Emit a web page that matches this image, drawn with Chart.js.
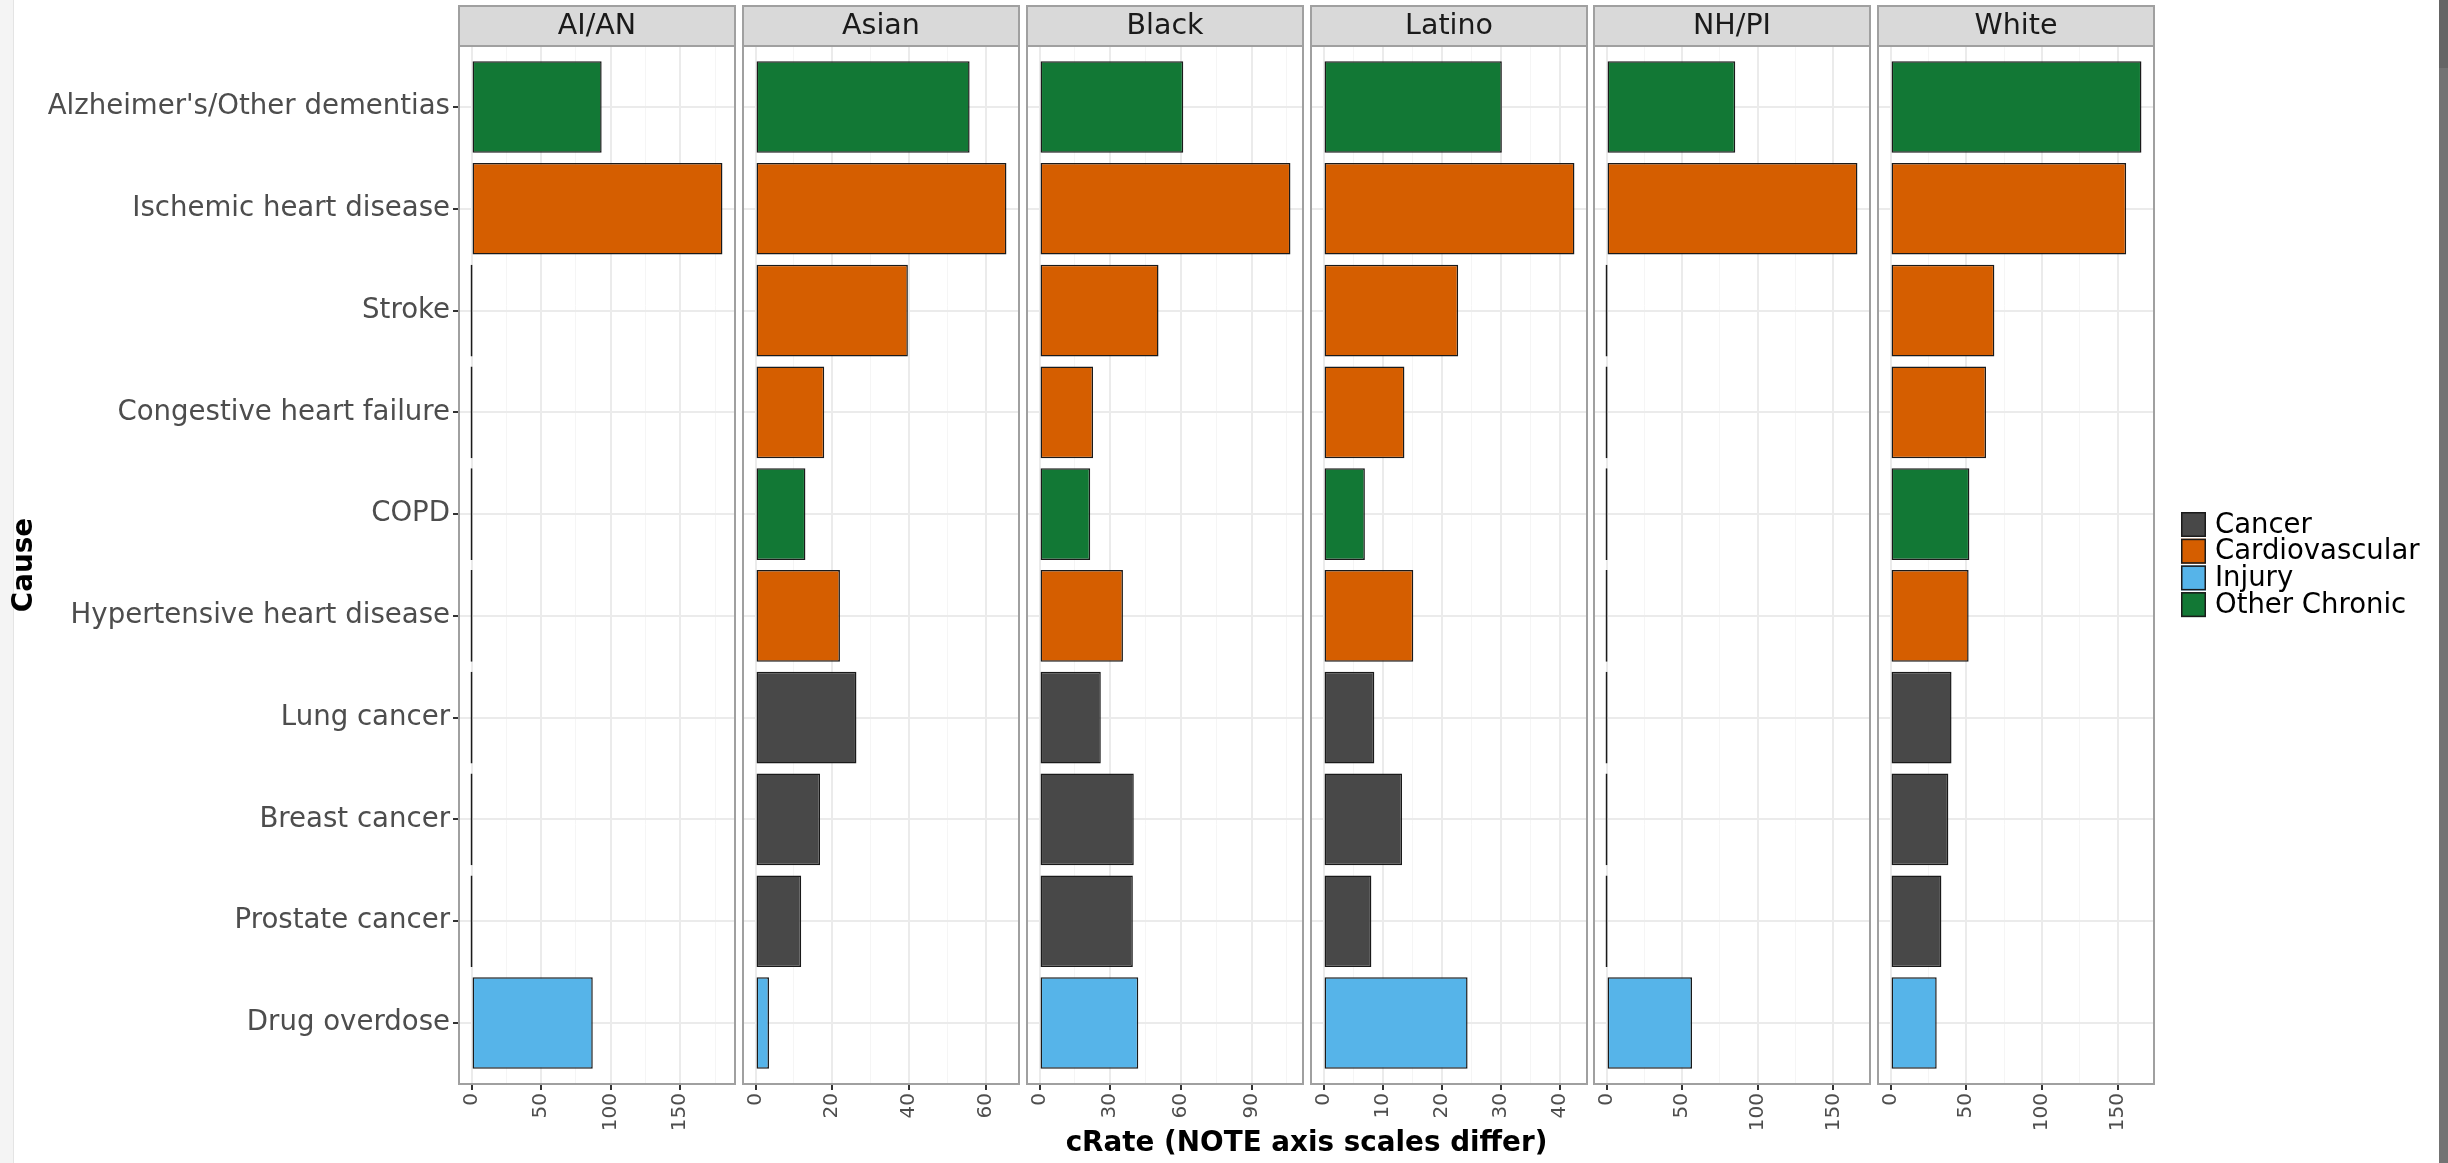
<!DOCTYPE html>
<html><head><meta charset="utf-8">
<script src="https://cdn.jsdelivr.net/npm/chart.js@4.4.1/dist/chart.umd.min.js"></script>
<style>
html,body{margin:0;padding:0;background:#fff;}
body{width:2448px;height:1163px;position:relative;overflow:hidden;}
#lstrip{position:absolute;left:0;top:0;width:13px;height:1163px;background:#f4f4f4;border-right:1px solid #e4e4e4;}
#rstrip{position:absolute;left:2439px;top:0;width:9px;height:1163px;background:#737373;}
#rstripTop{position:absolute;left:2439px;top:0;width:9px;height:68px;background:#656565;}
canvas{position:absolute;left:0;top:0;}
</style></head>
<body>
<div id="lstrip"></div><div id="rstrip"></div><div id="rstripTop"></div>
<script>
// ---- data ----
const causes = ["Alzheimer's/Other dementias","Ischemic heart disease","Stroke","Congestive heart failure","COPD","Hypertensive heart disease","Lung cancer","Breast cancer","Prostate cancer","Drug overdose"];
const causeGroups = ["Other Chronic","Cardiovascular","Cardiovascular","Cardiovascular","Other Chronic","Cardiovascular","Cancer","Cancer","Cancer","Injury"];
const groups = ["Cancer","Cardiovascular","Injury","Other Chronic"];
const groupColors = ["#484848","#d55e00","#56b4e9","#127835"];
const races = ["AI/AN","Asian","Black","Latino","NH/PI","White"];
const rateAIAN   = [93.5,180.3,0,0,0,0,0,0,0,87.1];
const rateAsian  = [55.8,65.4,39.7,17.9,13.0,22.0,26.3,16.8,11.9,3.5];
const rateBlack  = [61.0,106.5,50.5,22.7,21.5,35.4,26.0,40.0,39.6,41.9];
const rateLatino = [30.2,42.5,22.8,13.7,7.0,15.2,8.6,13.3,8.1,24.4];
const rateNHPI   = [85.1,165.9,0,0,0,0,0,0,0,56.5];
const rateWhite  = [165.8,155.7,68.6,63.1,52.1,51.6,40.3,38.2,33.6,30.5];
const ticksAIAN   = [0,50,100,150];
const ticksAsian  = [0,20,40,60];
const ticksBlack  = [0,30,60,90];
const ticksLatino = [0,10,20,30,40];
const ticksNHPI   = [0,50,100,150];
const ticksWhite  = [0,50,100,150];
const xTitle = "cRate (NOTE axis scales differ)";
const yTitle = "Cause";

const seriesList = [rateAIAN, rateAsian, rateBlack, rateLatino, rateNHPI, rateWhite];
const tickList = [ticksAIAN, ticksAsian, ticksBlack, ticksLatino, ticksNHPI, ticksWhite];

// ---- layout ----
const W = 2448, H = 1163;
const panelX = [459, 743, 1027, 1311, 1594, 1878];
const panelW = 276;
const stripTop = 6, panelTop = 46, panelBottom = 1084;
const FONT = '"DejaVu Sans", sans-serif';

const panelDeco = {
  id: 'panelDeco',
  afterDraw(chart) {
    const {ctx, chartArea: a} = chart;
    ctx.save();
    ctx.fillStyle = '#d9d9d9';
    ctx.fillRect(a.left, stripTop, a.right - a.left, a.top - stripTop);
    ctx.strokeStyle = '#a0a0a0'; ctx.lineWidth = 2;
    ctx.strokeRect(a.left, stripTop, a.right - a.left, a.top - stripTop);
    ctx.strokeRect(a.left, a.top, a.right - a.left, a.bottom - a.top);
    ctx.fillStyle = '#1a1a1a';
    ctx.font = '28.5px ' + FONT;
    ctx.textAlign = 'center'; ctx.textBaseline = 'middle';
    ctx.fillText(chart.data.datasets[0].label, (a.left + a.right) / 2, (stripTop + a.top) / 2 + 1);
    ctx.restore();
  }
};

const globalDeco = {
  id: 'globalDeco',
  afterDraw(chart) {
    const ctx = chart.ctx;
    ctx.save();
    ctx.fillStyle = '#000';
    ctx.font = 'bold 27.8px ' + FONT;
    ctx.textAlign = 'center'; ctx.textBaseline = 'middle';
    ctx.fillText(xTitle, (panelX[0] + panelX[5] + panelW) / 2, 1144);
    ctx.translate(25, (panelTop + panelBottom) / 2);
    ctx.rotate(-Math.PI / 2);
    ctx.fillText(yTitle, 0, 0);
    ctx.restore();
    // legend
    ctx.save();
    const kx = 2181, ky = 512, kw = 25, kh = 25, step = 26.7;
    ctx.font = '27.5px ' + FONT;
    ctx.textAlign = 'left'; ctx.textBaseline = 'middle';
    groups.forEach((g, j) => {
      const y = ky + j * step;
      ctx.fillStyle = groupColors[j];
      ctx.fillRect(kx, y, kw, kh);
      ctx.strokeStyle = '#1a1a1a'; ctx.lineWidth = 1.5;
      ctx.strokeRect(kx + 0.75, y + 0.75, kw - 1.5, kh - 1.5);
      ctx.fillStyle = '#000';
      ctx.fillText(g, 2215, y + kh / 2 + 1);
    });
    ctx.restore();
  }
};

races.forEach((race, i) => {
  const cv = document.createElement('canvas');
  cv.width = W; cv.height = H;
  document.body.appendChild(cv);
  const vals = seriesList[i];
  const majors = tickList[i];
  const vmax = Math.max(...vals);
  const xmin = -0.05 * vmax, xmax = 1.05 * vmax;
  const half = (majors[1] - majors[0]) / 2;
  const gridVals = [];
  for (let v = majors[0] - half; v <= xmax + 1e-9; v += half) if (v >= xmin) gridVals.push(v);
  const isMajor = v => majors.some(m => Math.abs(m - v) < 1e-9);
  const first = i === 0;
  const colors = causeGroups.map(g => groupColors[groups.indexOf(g)]);

  new Chart(cv.getContext('2d'), {
    type: 'bar',
    data: {
      datasets: [{
        label: race,
        data: vals.map((v, j) => ({x: v, y: j})),
        backgroundColor: colors,
        borderColor: '#1a1a1a',
        borderWidth: 1.5,
        borderSkipped: false,
        barPercentage: 0.9,
        categoryPercentage: 1,
        minBarLength: 2
      }]
    },
    options: {
      indexAxis: 'y',
      responsive: false,
      animation: false,
      devicePixelRatio: 1,
      layout: { padding: { left: first ? 0 : panelX[i], right: W - panelX[i] - panelW, top: panelTop, bottom: 0 } },
      plugins: { legend: { display: false }, tooltip: { enabled: false } },
      scales: {
        x: {
          type: 'linear', position: 'bottom', min: xmin, max: xmax, offset: false,
          afterBuildTicks: s => { s.ticks = gridVals.map(v => ({value: v})); },
          afterFit: s => { s.height = H - panelBottom; },
          border: { display: false },
          grid: {
            offset: false,
            color: c => isMajor(c.tick.value) ? '#ebebeb' : '#f5f5f5',
            lineWidth: c => isMajor(c.tick.value) ? 2 : 1,
            tickColor: c => isMajor(c.tick.value) ? '#333333' : 'rgba(0,0,0,0)',
            tickLength: 6, tickWidth: 2
          },
          ticks: {
            autoSkip: false, minRotation: 90, maxRotation: 90, padding: 3,
            color: '#4d4d4d', font: { family: FONT, size: 20 },
            callback: v => isMajor(v) ? String(v) : ''
          }
        },
        y: {
          type: 'linear', position: 'left', reverse: true, offset: false,
          min: -0.6, max: causes.length - 0.4,
          afterBuildTicks: s => { s.ticks = causes.map((c, j) => ({value: j})); },
          afterFit: s => { s.width = first ? panelX[0] : 0; },
          border: { display: false },
          grid: {
            offset: false,
            color: '#ebebeb', lineWidth: 2,
            drawTicks: first, tickLength: 6, tickWidth: 2, tickColor: '#333333'
          },
          ticks: {
            display: first, autoSkip: false, padding: 3,
            color: '#4d4d4d', font: { family: FONT, size: 27.6 },
            callback: v => causes[v]
          }
        }
      }
    },
    plugins: first ? [panelDeco, globalDeco] : [panelDeco]
  });
});
</script>
</body></html>
